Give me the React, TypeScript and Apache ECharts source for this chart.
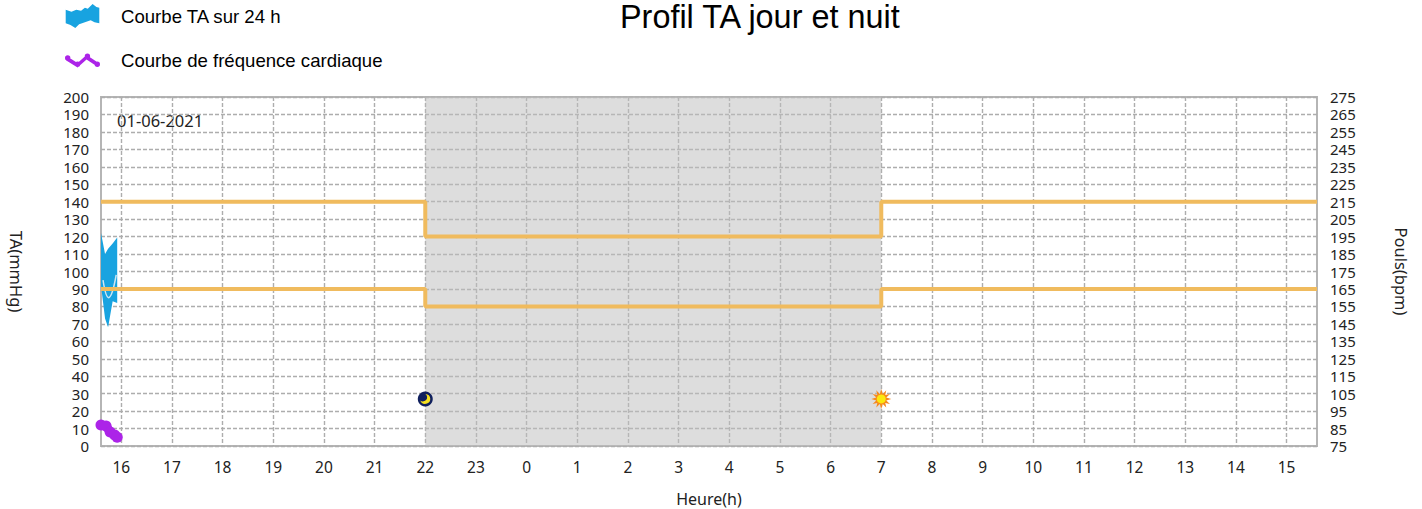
import React, { useEffect, useRef } from "react";
import * as echarts from "echarts";

const titleText = "Profil TA jour et nuit";
const dateLabel = "01-06-2021";
const hourTicks = [16, 17, 18, 19, 20, 21, 22, 23, 24, 25, 26, 27, 28, 29, 30, 31, 32, 33, 34, 35, 36, 37, 38, 39];
const pulseTicks = [75, 85, 95, 105, 115, 125, 135, 145, 155, 165, 175, 185, 195, 205, 215, 225, 235, 245, 255, 265, 275];
const limitHours = [15.6, 22, 22, 31, 31, 39.6];
const upperLimit = [140, 140, 120, 120, 140, 140];
const lowerLimit = [90, 90, 80, 80, 90, 90];
const bpHours = [15.6, 15.68, 15.74, 15.83, 15.92];
const systolic = [122, 110, 113, 116, 119.5];
const diastolic = [92, 73, 68, 83, 82];
const meanHours = [15.64, 15.75, 15.9];
const meanPressure = [95, 85, 98];
const pulseHours = [15.6, 15.7, 15.78, 15.87, 15.92];
const pulse = [87, 86.5, 83, 81.3, 80];
const nightBand = [22, 31];
const moonPoint = [22, 27];
const sunPoint = [31, 27];

const textColor = "#222";
const labelFont = "Noto Sans";
const iconBlue =
  "path://M0 6 L6 8 L11 6 L16 7 L20 4 L23 5 L28 0 L32 3 L35 4 L35 20 L30 19 L26 17 L20 19 L14 21 L10 25 L5 22 L0 20 Z";
const dot = (x: number, y: number) => `M${x - 3} ${y} a3 3 0 1 1 6 0 a3 3 0 1 1 -6 0 Z`;
const iconPulse =
  "path://M0 2.5 L11 9.5 L21 0.5 L34.5 9.5 L32 13 L21 5.5 L11 14.5 L-2 6.5 Z " + dot(0, 4) + dot(11, 11) + dot(22, 2) + dot(33, 11);
const moonPath = "path://M6 0 A6 6 0 1 1 0 8 A4.6 4.6 0 0 0 6 0 Z";
const sunPath =
  "path://M10 0 L11.5 5 L15 1.3 L14 6 L18.7 5 L15 8.5 L20 10 L15 11.5 L18.7 15 L14 14 L15 18.7 L11.5 15 L10 20 L8.5 15 L5 18.7 L6 14 L1.3 15 L5 11.5 L0 10 L5 8.5 L1.3 5 L6 6 L5 1.3 L8.5 5 Z";

export default function App() {
  const ref = useRef<HTMLDivElement>(null);
  useEffect(() => {
    const chart = echarts.init(ref.current!, undefined, { renderer: "svg" });
    const zip = (xs: number[], ys: number[]) => xs.map((x, i) => [x, ys[i]]);
    const limitStyle = { color: "#f0bb5e", width: 4 };
    const gridLine = { color: "#adadad", type: [4, 2], width: 1.4 };
    chart.setOption({
      animation: false,
      backgroundColor: "#fff",
      title: {
        text: titleText,
        left: 620,
        top: 3,
        padding: 0,
        textStyle: { fontFamily: "Liberation Sans", fontSize: 32.4, lineHeight: 28, fontWeight: "normal", color: "#000" },
      },
      legend: {
        orient: "vertical",
        left: 65,
        top: 4,
        padding: 0,
        itemWidth: 35,
        itemHeight: 24,
        itemGap: 23,
        data: [
          { name: "Courbe TA sur 24 h", icon: iconBlue },
          { name: "Courbe de fréquence cardiaque", icon: iconPulse },
        ],
        textStyle: { fontFamily: "Liberation Sans", fontSize: 18.6, color: "#000", padding: [2, 0, 0, 16] },
      },
      graphic: [
        {
          type: "text",
          left: 117,
          top: 112,
          style: { text: dateLabel, fontFamily: labelFont, fontSize: 16.5, fill: textColor },
        },
      ],
      grid: {
        left: 101,
        top: 97,
        width: 1216,
        height: 349,
        show: true,
        borderColor: "#b5b5b5",
        borderWidth: 2,
        backgroundColor: "transparent",
        outerBoundsMode: "none",
      },
      xAxis: {
        type: "value",
        min: 15.6,
        max: 39.6,
        name: "Heure(h)",
        nameLocation: "middle",
        nameGap: 45,
        nameTextStyle: { fontFamily: labelFont, fontSize: 16, color: textColor },
        axisLine: { show: false },
        axisTick: { show: false, customValues: hourTicks },
        axisLabel: {
          customValues: hourTicks,
          margin: 13,
          fontFamily: labelFont,
          fontSize: 15.5,
          color: textColor,
          formatter: (v: number) => String(v % 24),
        },
        splitLine: { show: true, lineStyle: gridLine },
      },
      yAxis: [
        {
          type: "value",
          min: 0,
          max: 200,
          interval: 10,
          name: "TA(mmHg)",
          nameLocation: "middle",
          nameRotate: -90,
          nameGap: 76,
          nameTextStyle: { fontFamily: labelFont, fontSize: 16.5, color: textColor },
          axisLine: { show: false },
          axisTick: { show: false },
          axisLabel: { margin: 12, fontFamily: labelFont, fontSize: 15, color: textColor, lineHeight: 14, padding: [0, 0, 2, 0] },
          splitLine: { show: true, lineStyle: gridLine },
        },
        {
          type: "value",
          position: "right",
          min: 75,
          max: 275,
          name: "Pouls(bpm)",
          nameLocation: "middle",
          nameRotate: -90,
          nameGap: 76,
          nameTextStyle: { fontFamily: labelFont, fontSize: 16.5, color: textColor },
          axisLine: { show: false },
          axisTick: { show: false, customValues: pulseTicks },
          axisLabel: {
            customValues: pulseTicks,
            margin: 13,
            fontFamily: labelFont,
            fontSize: 15,
            color: textColor,
            lineHeight: 14,
            padding: [0, 0, 2, 0],
          },
          splitLine: { show: false },
        },
      ],
      series: [
        {
          name: "night",
          type: "line",
          data: [],
          silent: true,
          z: 0,
          markArea: {
            silent: true,
            itemStyle: { color: "rgba(190,190,190,0.52)" },
            data: [[{ xAxis: nightBand[0] }, { xAxis: nightBand[1] }]],
          },
        },
        {
          name: "Courbe TA sur 24 h",
          type: "custom",
          clip: false,
          z: 3,
          itemStyle: { color: "#18a3e0" },
          data: zip(bpHours, systolic),
          encode: { x: 0, y: 1 },
          renderItem: (params: any, api: any) => {
            if (params.dataIndex !== 0) return null;
            const upper = bpHours.map((h, i) => api.coord([h, systolic[i]]));
            const lower = bpHours.map((h, i) => api.coord([h, diastolic[i]])).reverse();
            return {
              type: "polygon",
              shape: { points: upper.concat(lower) },
              style: { fill: "#18a3e0" },
            };
          },
        },
        {
          name: "mean",
          type: "line",
          smooth: true,
          data: zip(meanHours, meanPressure),
          showSymbol: false,
          lineStyle: { color: "#cfe6f2", width: 1.5 },
          z: 4,
        },
        {
          name: "upper",
          type: "line",
          data: zip(limitHours, upperLimit),
          showSymbol: false,
          lineStyle: limitStyle,
          z: 5,
        },
        {
          name: "lower",
          type: "line",
          data: zip(limitHours, lowerLimit),
          showSymbol: false,
          lineStyle: limitStyle,
          z: 5,
        },
        {
          name: "Courbe de fréquence cardiaque",
          type: "line",
          yAxisIndex: 1,
          clip: false,
          data: zip(pulseHours, pulse),
          symbol: "circle",
          symbolSize: 11,
          itemStyle: { color: "#ac24e8" },
          lineStyle: { color: "#ac24e8", width: 9 },
          z: 6,
        },
        {
          name: "moonDisc",
          type: "scatter",
          clip: false,
          data: [moonPoint],
          symbol: "circle",
          symbolSize: 15,
          itemStyle: { color: "#10205e", opacity: 1 },
          z: 7,
        },
        {
          name: "moon",
          type: "scatter",
          clip: false,
          data: [moonPoint],
          symbol: moonPath,
          symbolSize: 10,
          itemStyle: { color: "#f5e020", opacity: 1 },
          z: 8,
        },
        {
          name: "sunRays",
          type: "scatter",
          clip: false,
          data: [sunPoint],
          symbol: sunPath,
          symbolSize: 20,
          itemStyle: { color: "#f58a1e", opacity: 1 },
          z: 7,
        },
        {
          name: "sunCore",
          type: "scatter",
          clip: false,
          data: [sunPoint],
          symbol: "circle",
          symbolSize: 9,
          itemStyle: { color: "#fbe80e", opacity: 1 },
          z: 8,
        },
      ],
    });
    return () => chart.dispose();
  }, []);
  return <div ref={ref} style={{ position: "fixed", left: 0, top: 0, width: 1422, height: 509 }} />;
}
